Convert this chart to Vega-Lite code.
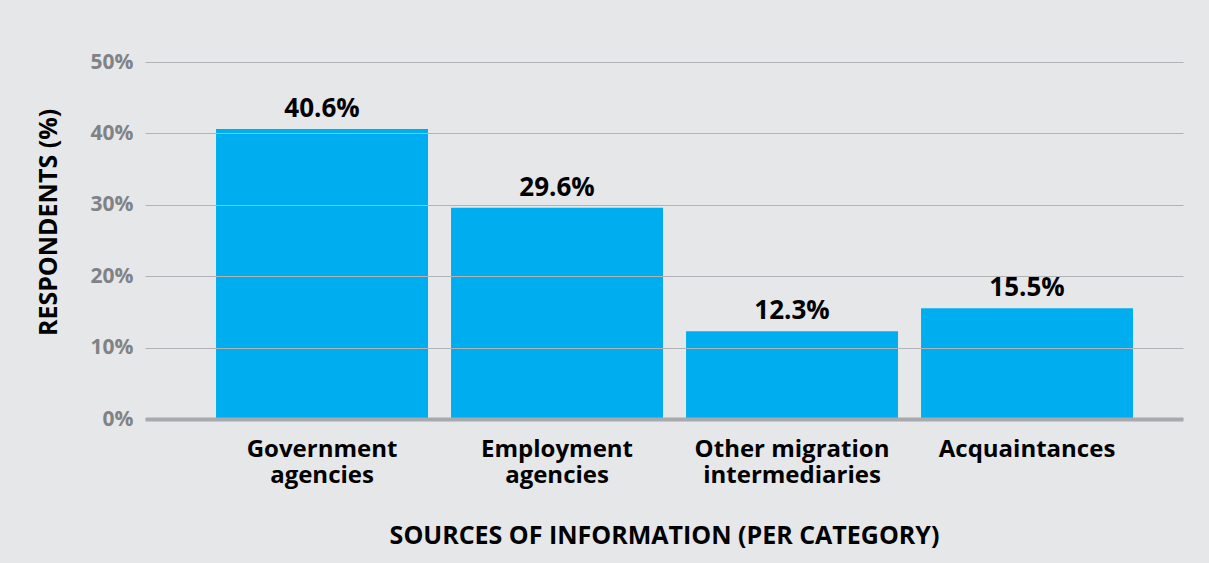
{
  "$schema": "https://vega.github.io/schema/vega-lite/v6.json",
  "autosize": {"type": "none"},
  "width": 1038,
  "height": 357,
  "padding": {"left": 145, "top": 62, "right": 26, "bottom": 144},
  "background": "#e6e7e8",
  "config": {
    "view": {"stroke": null},
    "font": "Open Sans"
  },
  "data": {
    "values": [
      {"source": "Government agencies", "share": 0.406},
      {"source": "Employment agencies", "share": 0.296},
      {"source": "Other migration intermediaries", "share": 0.123},
      {"source": "Acquaintances", "share": 0.155}
    ]
  },
  "encoding": {
    "x": {
      "field": "source",
      "type": "nominal",
      "sort": null,
      "scale": {"paddingInner": 0.098, "paddingOuter": 0.2575, "align": 0.587},
      "axis": {
        "title": "SOURCES OF INFORMATION (PER CATEGORY)",
        "titleFont": "Open Sans",
        "titleFontSize": 25,
        "titleFontWeight": "bold",
        "titleColor": "#000000",
        "titlePadding": 36,
        "labelAngle": 0,
        "labelFont": "Open Sans",
        "labelFontSize": 24,
        "labelFontWeight": "bold",
        "labelColor": "#000000",
        "labelLineHeight": 26,
        "labelPadding": 18,
        "labelLimit": 400,
        "labelExpr": "datum.value == 'Other migration intermediaries' ? ['Other migration', 'intermediaries'] : split(datum.value, ' ')",
        "ticks": false,
        "domain": true,
        "domainColor": "#a7a9ac",
        "domainWidth": 4,
        "zindex": 2
      }
    },
    "y": {
      "field": "share",
      "type": "quantitative",
      "scale": {"domain": [0, 0.5]},
      "axis": {
        "title": "RESPONDENTS (%)",
        "titleFont": "Open Sans",
        "titleFontSize": 25,
        "titleFontWeight": "bold",
        "titleColor": "#000000",
        "titlePadding": 29,
        "titleY": 160,
        "format": ".0%",
        "values": [0, 0.1, 0.2, 0.3, 0.4, 0.5],
        "labelFont": "Open Sans",
        "labelFontSize": 21,
        "labelFontWeight": "bold",
        "labelColor": "#808285",
        "labelPadding": 12,
        "ticks": false,
        "domain": false,
        "grid": true,
        "gridColor": "#b1b3b6",
        "gridWidth": 1,
        "zindex": 1
      }
    }
  },
  "layer": [
    {"mark": {"type": "bar", "color": "#00aeef"}},
    {
      "mark": {"type": "text", "baseline": "alphabetic", "dy": -12, "font": "Open Sans", "fontSize": 26, "fontWeight": "bold", "color": "#000000"},
      "encoding": {"text": {"field": "share", "type": "quantitative", "format": ".1%"}}
    }
  ]
}
